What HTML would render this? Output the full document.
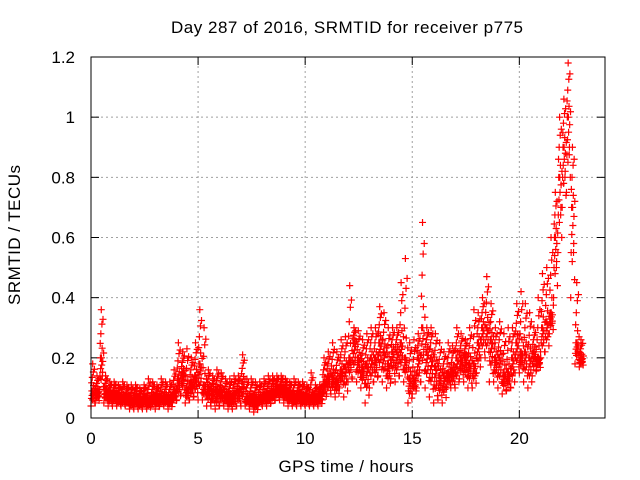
<!DOCTYPE html>
<html><head><meta charset="utf-8"><style>
html,body{margin:0;padding:0;background:#fff}
svg{display:block;font-family:"Liberation Sans","DejaVu Sans",sans-serif}
</style></head><body>
<svg id="chart" width="640" height="480" viewBox="0 0 640 480">
<text x="347" y="33" font-size="17" text-anchor="middle" textLength="352">Day 287 of 2016, SRMTID for receiver p775</text>
<text transform="translate(20,235) rotate(-90)" font-size="17" text-anchor="middle" textLength="140">SRMTID / TECUs</text>
<text x="346" y="472" font-size="17" text-anchor="middle" textLength="135">GPS time / hours</text>
<g id="grid"></g><g id="axes"></g><g id="marks"></g>
<rect x="91" y="57" width="514" height="361" fill="none" stroke="#000" stroke-width="1"/>
</svg>
<script>
const xTicks=[0,5,10,15,20];
const yTicks=[0,0.2,0.4,0.6,0.8,1.0,1.2];
const yTickLabels=["0","0.2","0.4","0.6","0.8","1","1.2"];
const hours=[0,0.2,0.4,0.6,0.8,1,1.2,1.4,1.6,1.8,2,2.2,2.4,2.6,2.8,3,3.2,3.4,3.6,3.8,4,4.2,4.4,4.6,4.8,5,5.2,5.4,5.6,5.8,6,6.2,6.4,6.6,6.8,7,7.2,7.4,7.6,7.8,8,8.2,8.4,8.6,8.8,9,9.2,9.4,9.6,9.8,10,10.2,10.4,10.6,10.8,11,11.2,11.4,11.6,11.8,12,12.2,12.4,12.6,12.8,13,13.2,13.4,13.6,13.8,14,14.2,14.4,14.6,14.8,15,15.2,15.4,15.6,15.8,16,16.2,16.4,16.6,16.8,17,17.2,17.4,17.6,17.8,18,18.2,18.4,18.6,18.8,19,19.2,19.4,19.6,19.8,20,20.2,20.4,20.6,20.8,21,21.2,21.4,21.6,21.8,22,22.2,22.4,22.6,22.8];
const midVals=[0.09,0.09,0.2,0.09,0.08,0.08,0.07,0.07,0.07,0.06,0.07,0.06,0.07,0.06,0.07,0.07,0.07,0.07,0.07,0.09,0.13,0.15,0.1,0.12,0.14,0.18,0.11,0.1,0.09,0.09,0.09,0.08,0.07,0.08,0.09,0.12,0.07,0.07,0.06,0.07,0.08,0.08,0.09,0.1,0.1,0.09,0.08,0.07,0.08,0.07,0.07,0.07,0.07,0.08,0.12,0.14,0.14,0.13,0.16,0.17,0.2,0.25,0.2,0.17,0.18,0.2,0.2,0.25,0.22,0.18,0.22,0.22,0.25,0.2,0.13,0.13,0.2,0.3,0.22,0.2,0.17,0.14,0.14,0.15,0.16,0.2,0.2,0.2,0.18,0.18,0.25,0.3,0.3,0.26,0.2,0.2,0.15,0.15,0.2,0.25,0.22,0.22,0.2,0.22,0.2,0.3,0.32,0.35,0.6,0.8,0.9,1.0,0.7,0.25,0.2];
const hiVals=[0.18,0.14,0.36,0.14,0.12,0.12,0.11,0.12,0.11,0.11,0.11,0.1,0.11,0.13,0.12,0.11,0.13,0.12,0.12,0.16,0.25,0.22,0.23,0.2,0.25,0.36,0.3,0.16,0.14,0.16,0.15,0.13,0.13,0.14,0.14,0.21,0.13,0.13,0.12,0.12,0.13,0.14,0.14,0.14,0.14,0.13,0.12,0.13,0.12,0.12,0.11,0.15,0.11,0.11,0.2,0.22,0.25,0.22,0.26,0.27,0.44,0.3,0.29,0.26,0.28,0.3,0.3,0.37,0.35,0.3,0.3,0.3,0.45,0.53,0.25,0.26,0.28,0.65,0.3,0.3,0.28,0.25,0.22,0.25,0.24,0.3,0.28,0.26,0.3,0.36,0.35,0.4,0.47,0.38,0.3,0.32,0.28,0.3,0.3,0.38,0.42,0.38,0.35,0.3,0.4,0.48,0.5,0.6,0.75,1.0,1.06,1.18,0.9,0.45,0.26];
const loVals=[0.04,0.05,0.08,0.05,0.04,0.04,0.04,0.04,0.04,0.03,0.03,0.03,0.03,0.03,0.04,0.03,0.04,0.04,0.03,0.05,0.06,0.08,0.05,0.06,0.07,0.06,0.06,0.04,0.04,0.03,0.04,0.04,0.03,0.03,0.04,0.04,0.04,0.03,0.02,0.04,0.04,0.04,0.05,0.06,0.06,0.05,0.04,0.04,0.04,0.04,0.04,0.04,0.04,0.04,0.06,0.08,0.08,0.07,0.1,0.07,0.12,0.13,0.12,0.1,0.05,0.1,0.12,0.14,0.12,0.1,0.13,0.12,0.14,0.12,0.05,0.08,0.1,0.12,0.1,0.07,0.05,0.06,0.05,0.1,0.1,0.1,0.13,0.12,0.1,0.1,0.15,0.2,0.2,0.12,0.12,0.1,0.08,0.09,0.1,0.15,0.15,0.12,0.1,0.14,0.16,0.2,0.22,0.28,0.4,0.55,0.7,0.75,0.4,0.18,0.17];
const X0=91,X1=605,Y0=418,Y1=57,XMAX=24,YMAX=1.2;
function xs(v){return X0+(X1-X0)*v/XMAX;}
function ys(v){return Y0-(Y0-Y1)*v/YMAX;}
const NS="http://www.w3.org/2000/svg";
function mk(tag,attrs,parent){const e=document.createElementNS(NS,tag);for(const k in attrs)e.setAttribute(k,attrs[k]);parent.appendChild(e);return e;}
const grid=document.getElementById('grid'),axes=document.getElementById('axes'),marks=document.getElementById('marks');
yTicks.forEach((v,i)=>{
  const y=ys(v);
  if(i>0&&i<yTicks.length-1){const g=mk('line',{x1:X0,x2:X1,y1:y,y2:y,stroke:'#a0a0a0','stroke-dasharray':'2,3','stroke-width':1},grid);
  
  }
  mk('line',{x1:X0,x2:X0+8,y1:y,y2:y,stroke:'#000'},axes);
  mk('line',{x1:X1,x2:X1-8,y1:y,y2:y,stroke:'#000'},axes);
  const t=mk('text',{x:X0-16,y:y+6,'font-size':17,'text-anchor':'end'},axes);
  t.textContent=yTickLabels[i];
  
  
});
xTicks.forEach(v=>{
  const x=xs(v);
  if(v>0){const g=mk('line',{x1:x,x2:x,y1:Y0,y2:Y1,stroke:'#a0a0a0','stroke-dasharray':'2,3','stroke-width':1},grid);
  
  }
  mk('line',{x1:x,x2:x,y1:Y0,y2:Y0-8,stroke:'#000'},axes);
  mk('line',{x1:x,x2:x,y1:Y1,y2:Y1+8,stroke:'#000'},axes);
  const t=mk('text',{x:x,y:Y0+26,'font-size':17,'text-anchor':'middle'},axes);
  t.textContent=String(v);
  
  
});
let d='';
function cross(h,v){const x=xs(h),y=ys(v);d+='M'+(x-3.5)+' '+y+'h7M'+x+' '+(y-3.5)+'v7';}
const fracs=[[0,0],[0.02,0.25],[0.04,0.5],[0.06,0.75],[0.08,1],[0.1,0.4],[0.12,0.6],[0.14,0.3],[0.16,0.9],[0.18,0.1],[0.03,0.65],[0.07,0.2],[0.11,0.85],[0.15,0.45],[0.19,0.55],[0.05,0.35]];
hours.forEach((h,i)=>{
  const lo=loVals[i],m=midVals[i],hi=hiVals[i];
  fracs.forEach(f=>{
    const q=f[1];
    const v=q<0.5?lo+(m-lo)*q*2:m+(hi-m)*(q-0.5)*2;
    cross(h+f[0],v);
  });
  cross(h+0.09,m);
  cross(h+0.13,(lo+m)/2);
});
const p=mk('path',{d:d,stroke:'#ff0000','stroke-width':1.2,fill:'none'},marks);


</script>
</body></html>
